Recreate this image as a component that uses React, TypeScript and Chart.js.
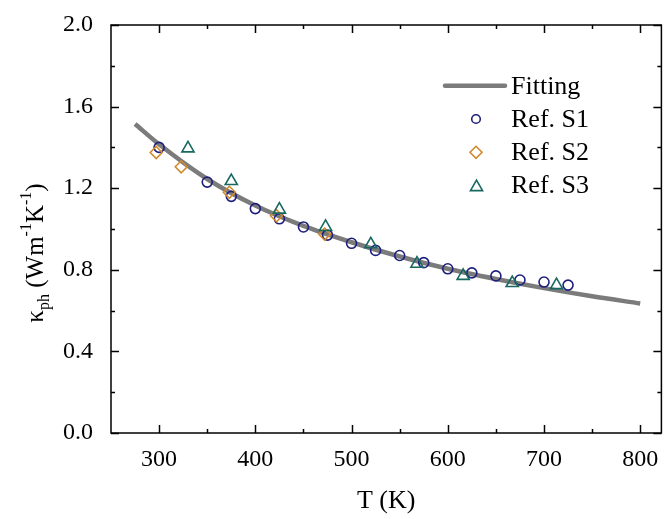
import React, { useEffect, useRef } from 'react';
import { Chart, registerables } from 'chart.js';

Chart.register(...registerables);

const FONT = "'Liberation Serif', 'Times New Roman', Times, serif";

// Fitting curve
const FIT_T = [275, 300, 350, 400, 450, 500, 550, 600, 650, 700, 750, 800];
const FIT_K = [1.515, 1.415, 1.245, 1.115, 1.015, 0.935, 0.865, 0.805, 0.755, 0.71, 0.67, 0.635];

// Ref. S1 (circles)
const S1_T = [300, 350, 375, 400, 425, 450, 475, 500, 525, 550, 575, 600, 625, 650, 675, 700, 725];
const S1_K = [1.4, 1.23, 1.16, 1.1, 1.05, 1.01, 0.97, 0.93, 0.895, 0.87, 0.835, 0.805, 0.785, 0.77, 0.75, 0.74, 0.725];

// Ref. S2 (diamonds)
const S2_T = [297, 323, 373, 422, 472];
const S2_K = [1.375, 1.305, 1.18, 1.065, 0.975];

// Ref. S3 (triangles)
const S3_T = [330, 375, 425, 473, 520, 568, 616, 667, 713];
const S3_K = [1.395, 1.235, 1.095, 1.01, 0.925, 0.83, 0.77, 0.735, 0.725];

const X_MAJOR = [300, 400, 500, 600, 700, 800];
const X_MINOR = [350, 450, 550, 650, 750];
const Y_MAJOR = [0, 0.4, 0.8, 1.2, 1.6, 2.0];
const Y_MINOR = [0.2, 0.6, 1.0, 1.4, 1.8];

const LEGEND_LABELS = ['Fitting', 'Ref. S1', 'Ref. S2', 'Ref. S3'];

const GRAY = '#7b7b7b';
const NAVY = '#1f1f7e';
const ORANGE = '#d08a2c';
const TEAL = '#17695f';

const pts = (xs: number[], ys: number[]) => xs.map((x, i) => ({ x, y: ys[i] }));

function drawMarker(ctx: CanvasRenderingContext2D, kind: string, x: number, y: number, r: number, color: string) {
  ctx.save();
  ctx.strokeStyle = color;
  ctx.lineWidth = 1.6;
  ctx.beginPath();
  if (kind === 'circle') {
    ctx.arc(x, y, r, 0, Math.PI * 2);
  } else if (kind === 'diamond') {
    ctx.moveTo(x - r, y);
    ctx.lineTo(x, y - r);
    ctx.lineTo(x + r, y);
    ctx.lineTo(x, y + r);
    ctx.closePath();
  } else {
    const s = Math.sqrt(3) / 2;
    ctx.moveTo(x, y - r);
    ctx.lineTo(x + r * s, y + r / 2);
    ctx.lineTo(x - r * s, y + r / 2);
    ctx.closePath();
  }
  ctx.stroke();
  ctx.restore();
}

const framePlugin = {
  id: 'frame',
  afterDatasetsDraw(chart: any) {
    const { ctx, chartArea: a, scales } = chart;
    const xs = scales.x;
    const ys = scales.y;
    ctx.save();
    ctx.strokeStyle = '#000';
    ctx.lineWidth = 1.5;
    ctx.strokeRect(a.left, a.top, a.right - a.left, a.bottom - a.top);
    const tick = (vals: number[], len: number, horizontal: boolean) => {
      vals.forEach((v) => {
        if (horizontal) {
          const p = Math.round(xs.getPixelForValue(v)) + 0.5;
          ctx.beginPath();
          ctx.moveTo(p, a.bottom);
          ctx.lineTo(p, a.bottom - len);
          ctx.moveTo(p, a.top);
          ctx.lineTo(p, a.top + len);
          ctx.stroke();
        } else {
          const p = Math.round(ys.getPixelForValue(v)) + 0.5;
          ctx.beginPath();
          ctx.moveTo(a.left, p);
          ctx.lineTo(a.left + len, p);
          ctx.moveTo(a.right, p);
          ctx.lineTo(a.right - len, p);
          ctx.stroke();
        }
      });
    };
    tick(X_MAJOR, 8, true);
    tick(X_MINOR, 4, true);
    tick(Y_MAJOR, 8, false);
    tick(Y_MINOR, 4, false);
    ctx.restore();
  },
  afterDraw(chart: any) {
    const { ctx, chartArea: a } = chart;
    ctx.save();
    // Legend
    const lx = 476;
    const ly0 = 85.7;
    const dy = 33.3;
    ctx.strokeStyle = GRAY;
    ctx.lineWidth = 4.5;
    ctx.lineCap = 'round';
    ctx.beginPath();
    ctx.moveTo(445, ly0);
    ctx.lineTo(505, ly0);
    ctx.stroke();
    drawMarker(ctx, 'circle', lx, ly0 + dy, 4.3, NAVY);
    drawMarker(ctx, 'diamond', lx, ly0 + 2 * dy, 6, ORANGE);
    drawMarker(ctx, 'triangle', lx + 0.5, ly0 + 3 * dy + 1.5, 7, TEAL);
    ctx.fillStyle = '#000';
    ctx.font = `26px ${FONT}`;
    ctx.textAlign = 'left';
    ctx.textBaseline = 'middle';
    LEGEND_LABELS.forEach((t, i) => ctx.fillText(t, 511, ly0 + i * dy + 1));

    // X title
    ctx.textAlign = 'center';
    ctx.fillText('T (K)', (a.left + a.right) / 2, 501);

    // Y title (rotated), with sub/superscripts
    const big = `25px ${FONT}`;
    const small = `16px ${FONT}`;
    const parts: [string, string, number][] = [
      ['\u03ba', big, 0],
      ['ph', small, 6],
      [' (Wm', big, 0],
      ['-1', small, -12],
      ['K', big, 0],
      ['-1', small, -12],
      [')', big, 0],
    ];
    let total = 0;
    parts.forEach(([t, f]) => {
      ctx.font = f;
      total += ctx.measureText(t).width;
    });
    ctx.translate(35, 253);
    ctx.rotate(-Math.PI / 2);
    ctx.textAlign = 'left';
    ctx.textBaseline = 'alphabetic';
    let cx = -total / 2;
    parts.forEach(([t, f, off]) => {
      ctx.font = f;
      ctx.fillText(t, cx, 8 + off);
      cx += ctx.measureText(t).width;
    });
    ctx.restore();
  },
};

export default function App() {
  const ref = useRef<HTMLCanvasElement | null>(null);

  useEffect(() => {
    document.body.style.margin = '0';
    if (!ref.current) return;
    const chart = new Chart(ref.current, {
      type: 'scatter',
      data: {
        datasets: [
          {
            label: 'Ref. S3',
            data: pts(S3_T, S3_K),
            pointStyle: 'triangle',
            pointRadius: 7,
            borderColor: TEAL,
            backgroundColor: 'rgba(0,0,0,0)',
            borderWidth: 1.6,
            order: 1,
          },
          {
            label: 'Ref. S2',
            data: pts(S2_T, S2_K),
            pointStyle: 'rectRot',
            pointRadius: 6,
            borderColor: ORANGE,
            backgroundColor: 'rgba(0,0,0,0)',
            borderWidth: 1.6,
            order: 2,
          },
          {
            label: 'Ref. S1',
            data: pts(S1_T, S1_K),
            pointStyle: 'circle',
            pointRadius: 5,
            borderColor: NAVY,
            backgroundColor: 'rgba(0,0,0,0)',
            borderWidth: 1.6,
            order: 3,
          },
          {
            type: 'line',
            label: 'Fitting',
            data: pts(FIT_T, FIT_K),
            showLine: true,
            pointRadius: 0,
            borderColor: GRAY,
            borderWidth: 4.5,
            cubicInterpolationMode: 'monotone',
            fill: false,
            order: 10,
          } as any,
        ],
      },
      options: {
        animation: false,
        responsive: true,
        maintainAspectRatio: false,
        layout: { padding: { top: 25, right: 2, left: 0, bottom: 0 } },
        plugins: { legend: { display: false }, tooltip: { enabled: false } },
        scales: {
          x: {
            type: 'linear',
            min: 250,
            max: 822,
            grid: { display: false },
            border: { display: false },
            afterBuildTicks: (s: any) => {
              s.ticks = X_MAJOR.map((v) => ({ value: v }));
            },
            afterFit: (s: any) => {
              s.height = 86;
            },
            ticks: {
              padding: 4,
              color: '#000',
              font: { family: FONT, size: 24 },
              callback: (v: any) => String(v),
            },
          },
          y: {
            type: 'linear',
            min: 0,
            max: 2,
            grid: { display: false },
            border: { display: false },
            afterBuildTicks: (s: any) => {
              s.ticks = Y_MAJOR.map((v) => ({ value: v }));
            },
            afterFit: (s: any) => {
              s.width = 111;
            },
            ticks: {
              padding: 10,
              color: '#000',
              font: { family: FONT, size: 24 },
              callback: (v: any) => Number(v).toFixed(1),
            },
          },
        },
      },
      plugins: [framePlugin],
    });
    return () => chart.destroy();
  }, []);

  return (
    <div style={{ width: 670, height: 519, position: 'relative', background: '#fff' }}>
      <canvas ref={ref} />
    </div>
  );
}
